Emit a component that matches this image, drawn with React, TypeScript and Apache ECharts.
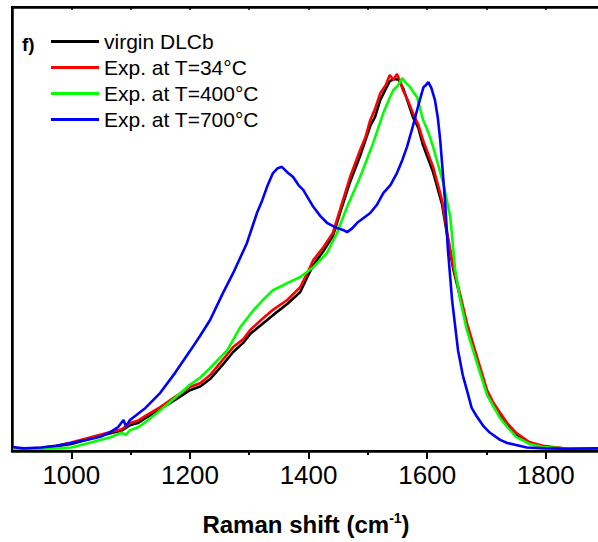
import { useEffect, useRef } from 'react';
import * as echarts from 'echarts';

const FONT = '"Liberation Sans", Arial, sans-serif';

const seriesNames = ['virgin DLCb', 'Exp. at T=34°C', 'Exp. at T=400°C', 'Exp. at T=700°C'];
const seriesColors = ['#000000', '#ff0000', '#00ff00', '#0000ff'];

const majorTicks = [1000, 1200, 1400, 1600, 1800];
const minorTicks = [1100, 1300, 1500, 1700];
const topTicks = [1000, 1100, 1200, 1300, 1400, 1500, 1600, 1700, 1800];

const virgin = [
  [900, 0.008], [920, 0.004], [949, 0.006], [975, 0.011], [1000, 0.016], [1033, 0.028], [1066, 0.040],
  [1085, 0.046], [1099, 0.058], [1112, 0.063], [1125, 0.074], [1150, 0.095], [1175, 0.115],
  [1200, 0.137], [1218, 0.146], [1234, 0.162], [1255, 0.194], [1273, 0.223], [1290, 0.244],
  [1302, 0.264], [1320, 0.284], [1340, 0.306], [1364, 0.331], [1386, 0.358], [1398, 0.392],
  [1408, 0.419], [1425, 0.450], [1441, 0.484], [1453, 0.536], [1470, 0.606], [1487, 0.665],
  [1504, 0.732], [1512, 0.752], [1521, 0.791], [1530, 0.815], [1537, 0.833], [1545, 0.838],
  [1552, 0.836], [1560, 0.815], [1567, 0.788], [1576, 0.752], [1585, 0.728], [1593, 0.689],
  [1610, 0.628], [1625, 0.556], [1634, 0.484], [1644, 0.410], [1655, 0.350], [1667, 0.282],
  [1684, 0.205], [1701, 0.130], [1712, 0.101], [1723, 0.081], [1735, 0.059], [1750, 0.038],
  [1772, 0.018], [1795, 0.010], [1829, 0.006], [1892, 0.006],
];

const exp34 = [
  [900, 0.007], [920, 0.005], [949, 0.007], [975, 0.012], [1000, 0.019], [1033, 0.031],
  [1066, 0.043], [1085, 0.049], [1099, 0.063], [1112, 0.068], [1125, 0.079], [1150, 0.099],
  [1175, 0.122], [1200, 0.144], [1218, 0.153], [1234, 0.171], [1255, 0.205], [1273, 0.234],
  [1290, 0.252], [1302, 0.273], [1320, 0.295], [1340, 0.318], [1364, 0.340], [1386, 0.369],
  [1398, 0.401], [1408, 0.430], [1425, 0.459], [1441, 0.491], [1453, 0.543], [1470, 0.617],
  [1487, 0.678], [1496, 0.707], [1504, 0.745], [1512, 0.770], [1521, 0.806], [1530, 0.824],
  [1537, 0.847], [1543, 0.836], [1549, 0.849], [1555, 0.831], [1559, 0.813], [1567, 0.791],
  [1576, 0.761], [1585, 0.735], [1593, 0.700], [1610, 0.640], [1625, 0.565], [1634, 0.491],
  [1644, 0.414], [1655, 0.356], [1667, 0.288], [1684, 0.212], [1701, 0.137], [1712, 0.108],
  [1723, 0.086], [1735, 0.063], [1750, 0.041], [1772, 0.020], [1795, 0.012], [1829, 0.006],
  [1892, 0.006],
];

const exp400 = [
  [900, 0.005], [920, 0.004], [949, 0.005], [975, 0.006], [1000, 0.008], [1033, 0.019],
  [1066, 0.031], [1085, 0.041], [1092, 0.036], [1099, 0.047], [1112, 0.053], [1125, 0.065],
  [1150, 0.092], [1175, 0.120], [1200, 0.149], [1218, 0.166], [1234, 0.187], [1263, 0.227],
  [1285, 0.279], [1307, 0.317], [1323, 0.340], [1340, 0.362], [1364, 0.378], [1386, 0.392],
  [1408, 0.414], [1431, 0.446], [1448, 0.491], [1465, 0.550], [1487, 0.617], [1509, 0.694],
  [1526, 0.761], [1535, 0.790], [1543, 0.813], [1550, 0.822], [1558, 0.840], [1564, 0.829],
  [1571, 0.820], [1583, 0.797], [1593, 0.746], [1602, 0.718], [1610, 0.685], [1627, 0.604],
  [1639, 0.527], [1647, 0.410], [1655, 0.345], [1667, 0.272], [1684, 0.198], [1701, 0.126],
  [1723, 0.074], [1735, 0.054], [1750, 0.032], [1772, 0.016], [1795, 0.009], [1829, 0.006],
  [1892, 0.006],
];

const exp700 = [
  [900, 0.009], [920, 0.006], [949, 0.008], [975, 0.012], [1000, 0.018], [1025, 0.025],
  [1049, 0.032], [1065, 0.042], [1079, 0.054], [1088, 0.070], [1092, 0.056], [1099, 0.070],
  [1125, 0.097], [1150, 0.131], [1175, 0.176], [1200, 0.225], [1217, 0.259], [1234, 0.295],
  [1255, 0.354], [1273, 0.401], [1296, 0.468], [1313, 0.536], [1322, 0.565], [1330, 0.595],
  [1340, 0.626], [1348, 0.637], [1355, 0.640], [1364, 0.628], [1374, 0.617], [1383, 0.599],
  [1391, 0.588], [1400, 0.568], [1408, 0.550], [1420, 0.529], [1431, 0.514], [1448, 0.502],
  [1458, 0.498], [1465, 0.493], [1474, 0.502], [1482, 0.514], [1504, 0.536], [1515, 0.554],
  [1526, 0.581], [1538, 0.599], [1549, 0.626], [1558, 0.655], [1566, 0.685], [1575, 0.727],
  [1583, 0.768], [1590, 0.802], [1594, 0.820], [1598, 0.824], [1602, 0.831], [1607, 0.818],
  [1613, 0.791], [1618, 0.750], [1622, 0.700], [1626, 0.633], [1630, 0.565], [1635, 0.453],
  [1642, 0.340], [1652, 0.227], [1660, 0.171], [1667, 0.137], [1675, 0.097], [1684, 0.077],
  [1695, 0.056], [1706, 0.041], [1723, 0.025], [1735, 0.018], [1768, 0.008], [1800, 0.006],
  [1840, 0.005], [1892, 0.006],
];

const seriesData = [virgin, exp34, exp400, exp700];

const X_MIN = 900;
const X_MAX = 1891.4;

export default function App() {
  const ref = useRef<HTMLDivElement>(null);
  useEffect(() => {
    const chart = echarts.init(ref.current!, null, { renderer: 'svg' });
    chart.setOption({
      animation: false,
      grid: { left: 12, top: 7, right: 4, bottom: 91 },
      legend: {
        orient: 'vertical',
        left: 51,
        top: 31,
        padding: 0,
        itemWidth: 48,
        itemHeight: 3,
        itemGap: 5,
        icon: 'rect',
        data: seriesNames,
        textStyle: { fontSize: 21, fontFamily: FONT, color: '#000', lineHeight: 21 },
      },
      graphic: [
        {
          type: 'text',
          left: 22,
          top: 35,
          style: { text: 'f)', font: 'bold 19px "Liberation Sans", Arial, sans-serif', fill: '#000' },
        },
      ],
      xAxis: [
        {
          type: 'value',
          position: 'bottom',
          min: X_MIN,
          max: X_MAX,
          axisLine: { show: true, onZero: false, lineStyle: { color: '#000', width: 2.5 } },
          axisTick: { show: true, customValues: majorTicks, length: 8, lineStyle: { color: '#000', width: 2 } },
          axisLabel: {
            customValues: majorTicks, fontSize: 26, color: '#000', fontFamily: FONT, margin: 11,
            formatter: (v: number) => String(v),
          },
          splitLine: { show: false },
          name: '{a|Raman shift (cm}{b|-1}{a|)}',
          nameLocation: 'middle',
          nameGap: 60,
          nameTextStyle: {
            rich: {
              a: { fontSize: 24, fontWeight: 'bold', fontFamily: FONT, color: '#000', lineHeight: 27 },
              b: { fontSize: 14, fontWeight: 'bold', fontFamily: FONT, color: '#000', verticalAlign: 'top', lineHeight: 14 },
            },
          },
        },
        {
          type: 'value',
          position: 'bottom',
          min: X_MIN,
          max: X_MAX,
          axisLine: { show: false, onZero: false },
          axisTick: { show: true, customValues: minorTicks, length: 4, lineStyle: { color: '#000', width: 2 } },
          axisLabel: { show: false },
          splitLine: { show: false },
        },
        {
          type: 'value',
          position: 'top',
          min: X_MIN,
          max: X_MAX,
          axisLine: { show: true, onZero: false, lineStyle: { color: '#000', width: 2.5 } },
          axisTick: { show: true, inside: true, customValues: topTicks, length: 3, lineStyle: { color: '#000', width: 1.5 } },
          axisLabel: { show: false },
          splitLine: { show: false },
        },
      ],
      yAxis: {
        type: 'value',
        position: 'left',
        min: 0,
        max: 1,
        axisLine: { show: true, onZero: false, lineStyle: { color: '#000', width: 2.5 } },
        axisTick: { show: false },
        axisLabel: { show: false },
        splitLine: { show: false },
      },
      series: seriesNames.map((name, i) => ({
        name,
        type: 'line',
        xAxisIndex: 0,
        data: seriesData[i],
        showSymbol: false,
        symbol: 'none',
        color: seriesColors[i],
        lineStyle: { color: seriesColors[i], width: 2.6 },
        z: 2 + i,
      })),
    });
    return () => chart.dispose();
  }, []);
  const frameLine = (s: React.CSSProperties): React.CSSProperties => ({
    position: 'absolute', background: '#000', pointerEvents: 'none', ...s,
  });
  return (
    <div style={{ position: 'absolute', left: 0, top: 0, width: 598, height: 542, overflow: 'hidden', background: '#fff' }}>
      <div ref={ref} style={{ position: 'absolute', left: 0, top: 0, width: 604, height: 542 }} />
      <div style={frameLine({ left: 10.75, top: 5.75, width: 600, height: 2.5 })} />
      <div style={frameLine({ left: 10.75, top: 5.75, width: 2.5, height: 446.5 })} />
      <div style={frameLine({ left: 10.75, top: 449.75, width: 600, height: 2.5 })} />
    </div>
  );
}
